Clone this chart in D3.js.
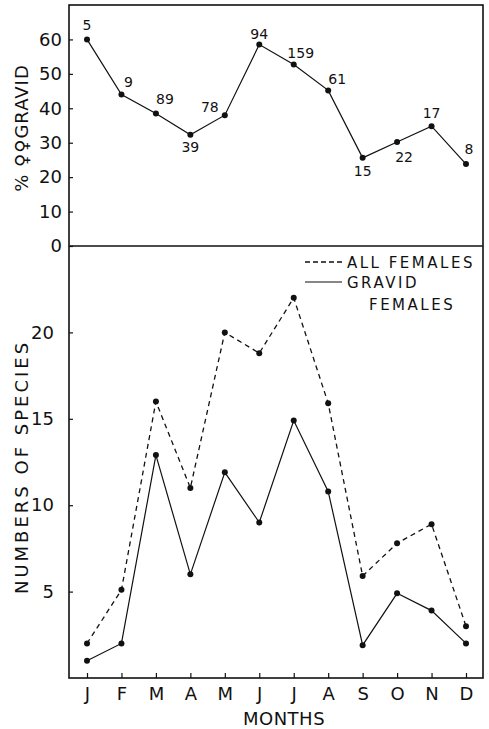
<!DOCTYPE html>
<html>
<head>
<meta charset="utf-8">
<script src="https://cdn.jsdelivr.net/npm/d3@7"></script>
<style>
  body { margin: 0; background: #fff; }
  text { font-family: 'DejaVu Sans', sans-serif; fill: #111; }
</style>
</head>
<body>
<svg id="chart"></svg>
<script>
var width = 489
var height = 729
var months = ['J', 'F', 'M', 'A', 'M', 'J', 'J', 'A', 'S', 'O', 'N', 'D']
var pctGravid = [60, 44, 38.5, 32.3, 38, 58.5, 52.7, 45.2, 25.6, 30.2, 34.8, 23.8]
var sampleSizes = ['5', '9', '89', '39', '78', '94', '159', '61', '15', '22', '17', '8']
var allFemales = [2, 5.1, 16, 11, 20, 18.8, 22, 15.9, 5.9, 7.8, 8.9, 3]
var gravidFemales = [1, 2, 12.9, 6, 11.9, 9, 14.9, 10.8, 1.9, 4.9, 3.9, 2]
var pctTicks = [0, 10, 20, 30, 40, 50, 60]
var speciesTicks = [5, 10, 15, 20]

// where each sample-size label sits relative to its point
var labelDx = [0, 7, 9, 0, -15, 0, 7, 9, 0, 7, 0, 3]
var labelDy = [-14, -13, -14, 12, -8, -11, -12, -11, 13, 15, -13, -15]

var frameLeft = 69, frameRight = 483, frameTop = 5, frameMid = 246, frameBottom = 678

var svg = d3.select('#chart').attr('width', width).attr('height', height)

var x = d3.scaleLinear().domain([0, 11]).range([87, 466])
var yTop = d3.scaleLinear().domain([0, 70]).range([frameMid, frameTop])
var yBot = d3.scaleLinear().domain([0, 25]).range([frameBottom, frameMid])

// frame
svg.append('rect')
  .attr('x', frameLeft).attr('y', frameTop)
  .attr('width', frameRight - frameLeft).attr('height', frameBottom - frameTop)
  .attr('fill', 'none').attr('stroke', '#111').attr('stroke-width', 1.6)
svg.append('line')
  .attr('x1', frameLeft).attr('x2', frameRight).attr('y1', frameMid).attr('y2', frameMid)
  .attr('stroke', '#111').attr('stroke-width', 1.6)

function styleAxis(g) {
  g.select('.domain').remove()
  g.selectAll('.tick line').attr('stroke', '#111').attr('stroke-width', 1.2)
  g.selectAll('.tick text').style('font-family', 'DejaVu Sans').style('font-size', '18px').attr('fill', '#111')
}

svg.append('g')
  .attr('transform', 'translate(' + frameLeft + ',0)')
  .call(d3.axisLeft(yTop).tickValues(pctTicks).tickSize(-4).tickPadding(7))
  .call(styleAxis)

svg.append('g')
  .attr('transform', 'translate(' + frameLeft + ',0)')
  .call(d3.axisLeft(yBot).tickValues(speciesTicks).tickSize(-4).tickPadding(15))
  .call(styleAxis)

svg.append('g')
  .attr('transform', 'translate(0,' + frameBottom + ')')
  .call(d3.axisBottom(x).tickValues(d3.range(12)).tickFormat(function (d) { return months[d] }).tickSize(-5).tickPadding(9))
  .call(styleAxis)

// axis titles
svg.append('text')
  .attr('transform', 'translate(28,128) rotate(-90)')
  .attr('text-anchor', 'middle')
  .style('font-size', '18px').style('letter-spacing', '1px')
  .text('% \u2640\u2640GRAVID')

svg.append('text')
  .attr('transform', 'translate(28,467) rotate(-90)')
  .attr('text-anchor', 'middle')
  .style('font-size', '18px').style('letter-spacing', '3px')
  .text('NUMBERS OF SPECIES')

svg.append('text')
  .attr('x', 284).attr('y', 725)
  .attr('text-anchor', 'middle')
  .style('font-size', '18px').style('letter-spacing', '0.5px')
  .text('MONTHS')

// top panel
var lineTop = d3.line().x(function (d, i) { return x(i) }).y(function (d) { return yTop(d) })
svg.append('path')
  .attr('d', lineTop(pctGravid))
  .attr('fill', 'none').attr('stroke', '#111').attr('stroke-width', 1.2)
svg.append('g').selectAll('circle')
  .data(pctGravid).enter().append('circle')
  .attr('cx', function (d, i) { return x(i) })
  .attr('cy', function (d) { return yTop(d) })
  .attr('r', 3).attr('fill', '#111')
svg.append('g').selectAll('text')
  .data(pctGravid).enter().append('text')
  .attr('x', function (d, i) { return x(i) + labelDx[i] })
  .attr('y', function (d, i) { return yTop(d) + labelDy[i] })
  .attr('text-anchor', 'middle')
  .attr('dominant-baseline', 'central')
  .style('font-size', '14px')
  .text(function (d, i) { return sampleSizes[i] })

// bottom panel
var lineBot = d3.line().x(function (d, i) { return x(i) }).y(function (d) { return yBot(d) })
svg.append('path')
  .attr('d', lineBot(allFemales))
  .attr('fill', 'none').attr('stroke', '#111').attr('stroke-width', 1.3)
  .attr('stroke-dasharray', '5,4')
svg.append('path')
  .attr('d', lineBot(gravidFemales))
  .attr('fill', 'none').attr('stroke', '#111').attr('stroke-width', 1.2)
;[allFemales, gravidFemales].forEach(function (series) {
  svg.append('g').selectAll('circle')
    .data(series).enter().append('circle')
    .attr('cx', function (d, i) { return x(i) })
    .attr('cy', function (d) { return yBot(d) })
    .attr('r', 3).attr('fill', '#111')
})

// legend
var legend = svg.append('g')
legend.append('line')
  .attr('x1', 305).attr('x2', 342).attr('y1', 262).attr('y2', 262)
  .attr('stroke', '#111').attr('stroke-width', 1.3).attr('stroke-dasharray', '5,3')
legend.append('line')
  .attr('x1', 305).attr('x2', 342).attr('y1', 282).attr('y2', 282)
  .attr('stroke', '#111').attr('stroke-width', 1.2)
legend.append('text').attr('x', 347).attr('y', 268)
  .style('font-size', '15px').style('letter-spacing', '2.5px').text('ALL FEMALES')
legend.append('text').attr('x', 347).attr('y', 288)
  .style('font-size', '15px').style('letter-spacing', '2.5px').text('GRAVID')
legend.append('text').attr('x', 369).attr('y', 310)
  .style('font-size', '15px').style('letter-spacing', '2.5px').text('FEMALES')
</script>
</body>
</html>
